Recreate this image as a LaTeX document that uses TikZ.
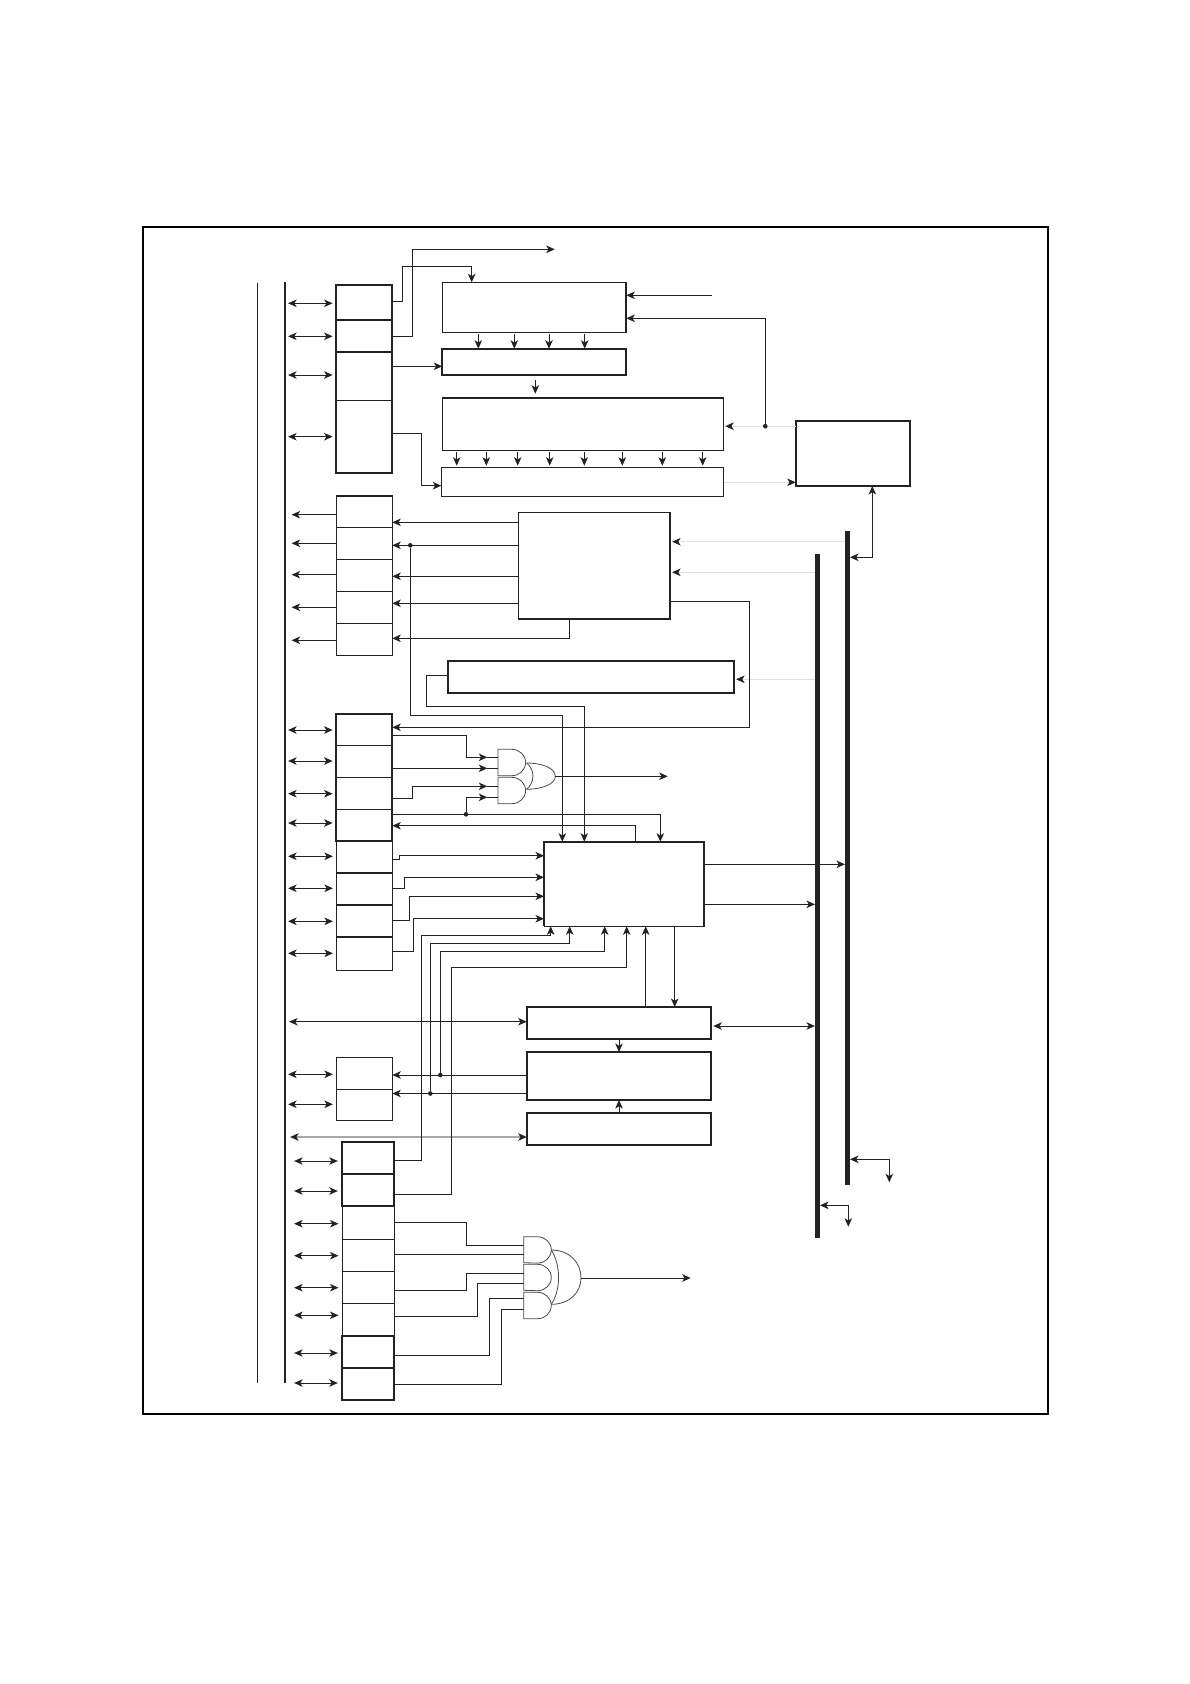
\documentclass[tikz,border=0pt]{standalone}
\usetikzlibrary{arrows.meta}
\definecolor{dk}{HTML}{222222}
\definecolor{lg}{HTML}{E0E0E0}
\definecolor{mg}{HTML}{A8A8A8}
\definecolor{gt}{HTML}{484848}
\tikzset{
  x=1pt,y=-1pt,
  tipS/.tip={Stealth[length=8.5pt,width=7.5pt,inset=2.3pt,color=dk]},
  thinb/.style={draw=dk,line width=1pt},
  thickb/.style={draw=dk,line width=1.9pt},
  wire/.style={draw=dk,line width=1pt,line join=miter},
  arr/.style={wire,-tipS},
  dbl/.style={wire,tipS-tipS},
  dblA/.style={dbl,shorten <=2pt,shorten >=3.4pt},
  dblB/.style={dbl,shorten <=8pt,shorten >=4.2pt},
  faint/.style={draw=lg,line width=1pt,-tipS},
  gate/.style={draw=gt,line width=0.8pt},
  dot/.style={circle,inner sep=0pt,minimum size=4.6pt},
  bar/.style={fill=dk,draw=none},
}
\newcommand{\blk}[6]{\node[rectangle,anchor=north west,inner sep=0pt,outer sep=0pt,minimum width={#4-#2},minimum height={#5-#3},#6] (#1) at (#2,#3) {};}
\newcommand{\gatebody}[1]{\draw[gate] (#1.north west) -- (#1.north) arc[start angle=90,end angle=-90,x radius=13.8pt,y radius=13.2pt] -- (#1.south west) -- cycle;}
\begin{document}
\begin{tikzpicture}
\fill[white] (0,0) rectangle (1190,1684);
\useasboundingbox (0,0) rectangle (1190,1684);
% frame
\blk{frame}{143}{227}{1048}{1414}{draw=black,line width=2.2pt}
% buses
\blk{busthin}{256.9}{282.7}{258}{1383}{bar}
\blk{bus}{284.1}{282}{286.1}{1383}{bar}
\blk{barA}{815}{554}{820}{1238}{bar}
\blk{barB}{845}{531}{850}{1184.7}{bar}
% group A
\blk{A1}{336}{284.7}{392.3}{319.7}{thickb}
\blk{A2}{336}{319.7}{392.3}{352}{thickb}
\blk{A3}{336}{352}{392.3}{400.3}{thinb}
\blk{A4}{336}{400.3}{392.3}{473}{thinb}
\draw[thickb] (A3.north west) rectangle (A4.south east);
% top boxes
\blk{B}{442.3}{282.3}{626.3}{332.3}{thinb}
\draw[thickb] (B.north east) -- (B.south east);
\blk{C}{442.3}{348.7}{626.3}{374.7}{thickb}
\blk{D}{442.3}{398}{723.7}{450.3}{thinb}
\draw[thickb] (D.north west) -- (D.north east);
\blk{E}{441.3}{467.3}{723.7}{496.3}{thinb}
\blk{F}{795.7}{421.3}{910.3}{486}{thickb}
% group G
\blk{G1}{336.3}{495.7}{392.3}{527.3}{thinb}
\blk{G2}{336.3}{527.3}{392.3}{559.3}{thinb}
\blk{G3}{336.3}{559.3}{392.3}{591}{thinb}
\blk{G4}{336.3}{591}{392.3}{623.3}{thinb}
\blk{G5}{336.3}{623.3}{392.3}{655.3}{thinb}
\draw[thickb] (G1.north west) -- (G1.north east);
% box H, I
\blk{H}{518.3}{512.3}{670.3}{619}{thinb}
\draw[thickb] (H.north east) -- (H.south east) -- (H.south west);
\blk{I}{447.7}{661}{734.3}{692.7}{thickb}
% group K
\blk{K1}{336}{713.7}{392.3}{745.3}{thinb}
\blk{K2}{336}{745.3}{392.3}{777.3}{thinb}
\blk{K3}{336}{777.3}{392.3}{809.3}{thinb}
\blk{K4}{336}{809.3}{392.3}{840.7}{thinb}
\draw[thickb] (K1.north west) rectangle (K4.south east);
% group L
\blk{L1}{336.3}{841}{392.3}{873}{thinb}
\blk{L2}{336.3}{873}{392.3}{905}{thinb}
\blk{L3}{336.3}{905}{392.3}{937}{thinb}
\blk{L4}{336.3}{937}{392.3}{970.3}{thinb}
\draw[thickb] (L1.south west) -- (L1.south east);
\draw[thickb] (L2.south west) -- (L2.south east);
\draw[thickb] (L3.south west) -- (L3.south east);
% box J, N, O, P
\blk{J}{544}{841.7}{704.3}{926.3}{thinb}
\draw[thickb] (J.south west) -- (J.north west) -- (J.north east) -- (J.south east);
\blk{N}{526.7}{1007}{711.3}{1039}{thickb}
\blk{O}{526.7}{1052}{711.3}{1100}{thickb}
\blk{P}{526.7}{1113}{711.3}{1145}{thickb}
% group Q
\blk{Q1}{336.3}{1057.3}{392.3}{1089.3}{thinb}
\blk{Q2}{336.3}{1089.3}{392.3}{1120.3}{thinb}
% groups R, S, T
\blk{S1}{342.7}{1206}{394.3}{1239.3}{thinb}
\blk{S2}{342.7}{1239.3}{394.3}{1271.3}{thinb}
\blk{S3}{342.7}{1271.3}{394.3}{1303.3}{thinb}
\blk{S4}{342.7}{1303.3}{394.3}{1335.7}{thinb}
\blk{R1}{342}{1142}{394.3}{1174}{thickb}
\blk{R2}{342}{1174}{394.3}{1206}{thickb}
\blk{T1}{342}{1335.7}{394.3}{1367.7}{thickb}
\blk{T2}{342}{1367.7}{394.3}{1399.7}{thickb}
% bus double arrows
\foreach \n/\y in {A1/303.3,A2/336.3,A3/375,A4/436.7,K1/730,K2/761,K3/793.7,K4/823,L1/856.3,L2/888.3,L3/921.3,L4/953.3,Q1/1074.3,Q2/1104.3}
  \draw[dblA] (bus.east |- 0,\y) -- (\n.west |- 0,\y);
\foreach \n/\y in {R1/1161,R2/1191,S1/1223.7,S2/1255.7,S3/1287.7,S4/1315.3,T1/1353,T2/1383}
  \draw[dblB] (bus.east |- 0,\y) -- (\n.west |- 0,\y);
\foreach \n/\y in {G1/514.7,G2/543.3,G3/574.7,G4/607.3,G5/640.3}
  \draw[arr,shorten >=5.5pt] (\n.west |- 0,\y) -- (bus.east |- 0,\y);
\draw[dbl,shorten <=3pt] (bus.east |- 0,1021.7) -- (N.west |- 0,1021.7);
\draw[draw=mg,line width=1.3pt,tipS-tipS,shorten <=4pt] (bus.east |- 0,1137) -- (P.west |- 0,1137);
% group A connectors
\coordinate (outtop) at (554.7,249.3);
\draw[arr] (A1.east |- 0,301.3) -- (402.3,301.3) -- (402.3,266.3) -- (471.7,266.3) -- (471.7,0 |- B.north);
\draw[arr] (A2.east |- 0,336.3) -- (412.7,336.3) -- (412.7,249.3) -- (outtop);
\draw[arr] (A3.east |- 0,366.3) -- (C.west |- 0,366.3);
\draw[arr] (A4.east |- 0,433.3) -- (421.7,433.3) -- (421.7,485.7) -- (E.west |- 0,485.7);
% B to C, C to D, D to E
\foreach \x in {478.3,514.3,549,584.7}
  \draw[arr,shorten <=2pt] (\x,0 |- B.south) -- (\x,0 |- C.north);
\draw[arr,shorten <=5.6pt,shorten >=4.3pt] (535.3,0 |- C.south) -- (535.3,0 |- D.north);
\foreach \x in {456.7,486.3,517.7,549.7,584.3,622.3,662.3,702.7}
  \draw[arr,shorten <=2pt,shorten >=1.6pt] (\x,0 |- D.south) -- (\x,0 |- E.north);
% F related (faint lines first, so that the dot lies on top)
\draw[faint,shorten >=1.5pt] (F.west |- 0,426.2) -- (D.east |- 0,426.2);
\draw[faint] (E.east |- 0,482.3) -- (F.west |- 0,482.3);
% into B from right
\coordinate (inB) at (712,295.3);
\draw[arr] (inB) -- (B.east |- inB);
\node[dot,fill=dk] (dF) at (765.3,426.2) {};
\draw[arr] (dF) -- (765.3,318.3) -- (B.east |- 0,318.3);
\draw[wire,tipS-tipS] (872.3,0 |- F.south) -- (872.3,557.3) -- (barB.east |- 0,557.3);
% bars to H, I
\draw[faint,shorten >=1.8pt] (barB.west |- 0,541.7) -- (H.east |- 0,541.7);
\draw[faint,shorten >=1.8pt] (barA.west |- 0,572.3) -- (H.east |- 0,572.3);
\draw[faint,shorten >=1.8pt] (barA.west |- 0,679.3) -- (I.east |- 0,679.3);
% H to G
\draw[arr] (H.west |- 0,522.3) -- (G1.east |- 0,522.3);
\draw[arr] (H.west |- 0,576.3) -- (G3.east |- 0,576.3);
\draw[arr] (H.west |- 0,603.3) -- (G4.east |- 0,603.3);
\draw[arr] (H.west |- 0,545.3) -- (G2.east |- 0,545.3);
\draw[arr] (569.3,0 |- H.south) -- (569.3,638.3) -- (G5.east |- 0,638.3);
\node[dot,fill=dk] (dH) at (410.3,545.3) {};
\draw[arr] (dH) -- (410.3,715.3) -- (562.3,715.3) -- (562.3,0 |- J.north);
\draw[wire,-tipS] (H.east |- 0,601.3) -- (749.3,601.3) -- (749.3,727.3) -- (K1.east |- 0,727.3);
\draw[arr] (I.west |- 0,675.3) -- (426.3,675.3) -- (426.3,706.3) -- (584.3,706.3) -- (584.3,0 |- J.north);
% gates set 1
\blk{GA}{498}{749.3}{525.6}{775.7}{}
\blk{GB}{498}{777.3}{525.6}{803.7}{}
\gatebody{GA}
\gatebody{GB}
\coordinate (or1a) at (526.7,763);
\coordinate (or1b) at (526.7,789.3);
\coordinate (or1out) at (555.3,776.3);
\coordinate (out1) at (667.7,776.3);
\draw[gate] (or1a) .. controls (535,770) and (535,782) .. (or1b);
\draw[gate] (or1a) .. controls (542,763) and (555.3,768) .. (or1out) .. controls (555.3,784) and (542,789.3) .. (or1b);
\draw[arr] (or1out) -- (out1);
\draw[wire] (487,757.3) -- (GA.west |- 0,757.3);
\draw[wire] (487,768.3) -- (GA.west |- 0,768.3);
\draw[wire] (487,786.3) -- (GB.west |- 0,786.3);
\draw[wire] (487,797.3) -- (GB.west |- 0,797.3);
\draw[arr] (K1.east |- 0,735.7) -- (466.3,735.7) -- (466.3,757.3) -- (487.3,757.3);
\draw[arr] (K2.east |- 0,768.3) -- (487.3,768.3);
\draw[arr] (K3.east |- 0,798.3) -- (412.3,798.3) -- (412.3,786.3) -- (487.3,786.3);
\draw[arr] (K4.east |- 0,814.3) -- (660.3,814.3) -- (660.3,0 |- J.north);
\node[dot,fill=dk] (dK) at (466,814.3) {};
\draw[arr] (dK) -- (466,797.3) -- (487.3,797.3);
\draw[arr] (635.7,0 |- J.north) -- (635.7,825.7) -- (K4.east |- 0,825.7);
% L to J
\draw[arr] (L1.east |- 0,859.3) -- (399.3,859.3) -- (399.3,855.7) -- (J.west |- 0,855.7);
\draw[arr] (L2.east |- 0,888.3) -- (404.3,888.3) -- (404.3,877.3) -- (J.west |- 0,877.3);
\draw[arr] (L3.east |- 0,920.3) -- (409.3,920.3) -- (409.3,896.3) -- (J.west |- 0,896.3);
\draw[arr] (L4.east |- 0,951.3) -- (413.3,951.3) -- (413.3,918.7) -- (J.west |- 0,918.7);
% into J from below
\draw[arr] (R1.east |- 0,1160.3) -- (421.7,1160.3) -- (421.7,935.7) -- (550.7,935.7) -- (550.7,0 |- J.south);
\draw[arr] (O.west |- 0,1075) -- (Q1.east |- 0,1075);
\draw[arr] (O.west |- 0,1093.5) -- (Q2.east |- 0,1093.5);
\node[dot,fill=dk] (dQ2) at (430.3,1093.5) {};
\node[dot,fill=dk] (dQ1) at (440.3,1075) {};
\draw[arr] (dQ2) -- (430.3,943.3) -- (569.7,943.3) -- (569.7,0 |- J.south);
\draw[arr] (dQ1) -- (440.3,951.3) -- (604.7,951.3) -- (604.7,0 |- J.south);
\draw[arr] (R2.east |- 0,1194.3) -- (451.3,1194.3) -- (451.3,967.3) -- (626.7,967.3) -- (626.7,0 |- J.south);
\draw[arr] (645.7,0 |- N.north) -- (645.7,0 |- J.south);
\draw[arr] (674.7,0 |- J.south) -- (674.7,0 |- N.north);
% J, N to bars
\draw[arr] (J.east |- 0,864.3) -- (barB.west |- 0,864.3);
\draw[arr] (J.east |- 0,904.3) -- (barA.west |- 0,904.3);
\draw[wire,tipS-tipS,shorten <=2pt] (N.east |- 0,1026) -- (barA.west |- 0,1026);
% N, O, P
\draw[arr] (619,0 |- N.south) -- (619,0 |- O.north);
\draw[arr] (619,0 |- P.north) -- (619,0 |- O.south);
% gates set 2
\blk{GC}{523.7}{1236.7}{551.3}{1262.7}{}
\blk{GD}{523.7}{1264.3}{551.3}{1290.3}{}
\blk{GE}{523.7}{1292.3}{551.3}{1318.7}{}
\gatebody{GC}
\gatebody{GD}
\gatebody{GE}
\coordinate (or2a) at (551.3,1250);
\coordinate (or2b) at (551.3,1304.3);
\coordinate (or2out) at (581,1278);
\coordinate (out2) at (690.7,1278);
\draw[gate] (or2a) .. controls (561,1265) and (561,1290) .. (or2b);
\draw[gate] (or2a) .. controls (570,1250) and (581,1263) .. (or2out) .. controls (581,1292) and (570,1304.3) .. (or2b);
\draw[arr] (or2out) -- (out2);
\draw[wire] (S1.east |- 0,1222.3) -- (466.3,1222.3) -- (466.3,1245.3) -- (GC.west |- 0,1245.3);
\draw[wire] (S2.east |- 0,1254.3) -- (GC.west |- 0,1254.3);
\draw[wire] (S3.east |- 0,1290.3) -- (466.3,1290.3) -- (466.3,1273.3) -- (GD.west |- 0,1273.3);
\draw[wire] (S4.east |- 0,1316.3) -- (477.7,1316.3) -- (477.7,1283.3) -- (GD.west |- 0,1283.3);
\draw[wire] (T1.east |- 0,1355.3) -- (489.7,1355.3) -- (489.7,1298.3) -- (GE.west |- 0,1298.3);
\draw[wire] (T2.east |- 0,1384.3) -- (501.3,1384.3) -- (501.3,1309.3) -- (GE.west |- 0,1309.3);
% bar stubs
\coordinate (stubB) at (889.3,1182.3);
\coordinate (stubA) at (848.3,1226.7);
\draw[wire,tipS-tipS] (barB.east |- 0,1159.3) -- (889.3,1159.3) -- (stubB);
\draw[wire,tipS-tipS] (barA.east |- 0,1205.3) -- (848.3,1205.3) -- (stubA);
\end{tikzpicture}
\end{document}
